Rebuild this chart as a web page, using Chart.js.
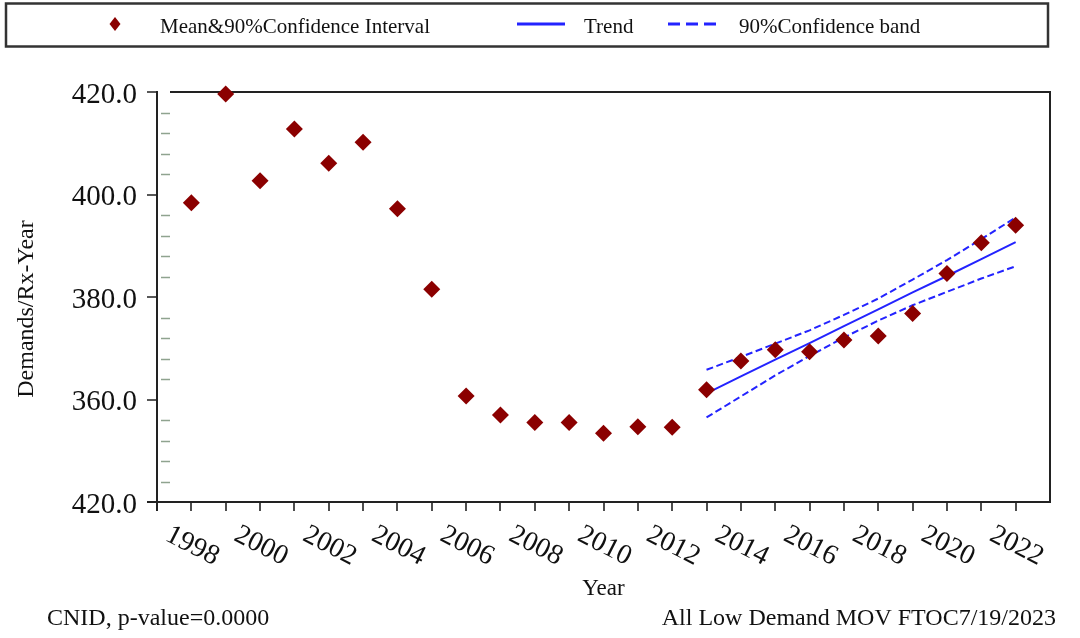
<!DOCTYPE html>
<html>
<head>
<meta charset="utf-8">
<script src="https://cdn.jsdelivr.net/npm/chart.js@4.4.1/dist/chart.umd.min.js"></script>
<style>
  html, body { margin: 0; padding: 0; background: #ffffff; }
  #wrap { width: 1080px; height: 638px; }
</style>
</head>
<body>
<div id="wrap"><canvas id="c" width="1080" height="638"></canvas></div>
<script>
// ---------------- data ----------------
const years = [1998, 1999, 2000, 2001, 2002, 2003, 2004, 2005, 2006, 2007, 2008, 2009, 2010,
               2011, 2012, 2013, 2014, 2015, 2016, 2017, 2018, 2019, 2020, 2021, 2022];
const meanDemand = [398.4, 419.6, 402.7, 412.8, 406.1, 410.2, 397.2, 381.5, 360.7, 357.0, 355.5, 355.5, 353.4,
                    354.7, 354.6, 361.9, 367.5, 369.7, 369.3, 371.6, 372.4, 376.8, 384.6, 390.6, 394.0];
const trendYears = [2013, 2014, 2015, 2016, 2017, 2018, 2019, 2020, 2021, 2022];
const trendValues = [361.2, 364.5, 367.8, 371.0, 374.3, 377.6, 380.9, 384.1, 387.4, 390.7];
const upperBand = [365.8, 368.3, 370.9, 373.5, 376.5, 379.7, 383.4, 387.2, 391.3, 395.5];
const lowerBand = [356.5, 360.6, 364.7, 368.5, 372.1, 375.4, 378.4, 381.0, 383.6, 386.0];
const xTickLabels = ['1998', '2000', '2002', '2004', '2006', '2008', '2010', '2012', '2014', '2016', '2018', '2020', '2022'];
const yTickLabels = ['420.0', '360.0', '380.0', '400.0', '420.0']; // bottom to top, as printed in the source
const seriesNames = ['Mean&90%Confidence Interval', 'Trend', '90%Confidence band'];
const xTitle = 'Year';
const yTitle = 'Demands/Rx-Year';
const footLeft = 'CNID, p-value=0.0000';
const footRight = 'All Low Demand MOV FTOC7/19/2023';

// ---------------- styles ----------------
const SERIF = '"Liberation Serif", "Times New Roman", "DejaVu Serif", serif';
const MARKER = '#8b0000';
const BLUE = '#2323ff';
const INK = '#111111';

const decor = {
  id: 'decor',
  beforeDatasetsDraw(chart) {
    const { ctx, chartArea: a, scales: { x, y } } = chart;
    ctx.save();
    ctx.strokeStyle = '#222222';
    ctx.lineWidth = 2;
    ctx.beginPath();
    ctx.moveTo(a.left, a.top - 1); ctx.lineTo(a.left, a.bottom + 9);
    ctx.moveTo(a.left - 10, a.bottom); ctx.lineTo(a.right + 1, a.bottom);
    ctx.moveTo(a.right, a.top - 1); ctx.lineTo(a.right, a.bottom + 1);
    ctx.moveTo(a.left + 13, a.top); ctx.lineTo(a.right + 1, a.top);
    ctx.stroke();
    ctx.lineWidth = 1.6;
    ctx.beginPath();
    for (let v = y.min; v <= y.max; v += 20) {
      const py = Math.round(y.getPixelForValue(v));
      ctx.moveTo(a.left - 10, py); ctx.lineTo(a.left, py);
    }
    for (let yr = x.min + 1; yr < x.max; yr++) {
      const px = Math.round(x.getPixelForValue(yr));
      ctx.moveTo(px, a.bottom); ctx.lineTo(px, a.bottom + 9);
    }
    ctx.stroke();
    ctx.strokeStyle = '#8fa38f';
    ctx.lineWidth = 1.5;
    ctx.beginPath();
    for (let v = y.min + 4; v < y.max; v += 4) {
      if (v % 20 === 0) continue;
      const py = Math.round(y.getPixelForValue(v)) + 0.5;
      ctx.moveTo(a.left + 4, py); ctx.lineTo(a.left + 13, py);
    }
    ctx.stroke();
    ctx.restore();
  },
  afterDraw(chart) {
    const { ctx, chartArea: a, scales: { x } } = chart;
    ctx.save();
    ctx.fillStyle = INK;
    // rotated x tick labels
    ctx.font = '28px ' + SERIF;
    ctx.textAlign = 'center';
    ctx.textBaseline = 'middle';
    xTickLabels.forEach(lbl => {
      const px = x.getPixelForValue(Number(lbl));
      ctx.save();
      ctx.translate(px + 1, a.bottom + 44);
      ctx.rotate(27 * Math.PI / 180);
      ctx.fillText(lbl, 0, 0);
      ctx.restore();
    });
    // y title
    ctx.save();
    ctx.font = '24px ' + SERIF;
    ctx.translate(27, 309);
    ctx.rotate(-Math.PI / 2);
    ctx.fillText(yTitle, 0, 0);
    ctx.restore();
    // footer
    ctx.font = '24px ' + SERIF;
    ctx.textAlign = 'left';
    ctx.fillText(footLeft, 47, 619);
    ctx.textAlign = 'right';
    ctx.fillText(footRight, 1056, 619);
    // legend box
    ctx.strokeStyle = '#333333';
    ctx.lineWidth = 2.5;
    ctx.strokeRect(6, 3.5, 1042, 43);
    const ds = chart.data.datasets;
    const ly = 24;
    // marker
    ctx.fillStyle = ds[0].backgroundColor;
    ctx.beginPath();
    ctx.moveTo(115, ly - 7); ctx.lineTo(120.5, ly); ctx.lineTo(115, ly + 7); ctx.lineTo(109.5, ly);
    ctx.closePath(); ctx.fill();
    // trend line
    ctx.strokeStyle = ds[1].borderColor;
    ctx.lineWidth = 3;
    ctx.beginPath(); ctx.moveTo(517, ly); ctx.lineTo(565, ly); ctx.stroke();
    // dashed band line
    ctx.setLineDash([12, 6]);
    ctx.beginPath(); ctx.moveTo(668, ly); ctx.lineTo(717, ly); ctx.stroke();
    ctx.setLineDash([]);
    ctx.fillStyle = INK;
    ctx.font = '21px ' + SERIF;
    ctx.textAlign = 'left';
    ctx.fillText(ds[0].label, 160, ly + 3);
    ctx.fillText(ds[1].label, 584, ly + 3);
    ctx.fillText(ds[2].label, 739, ly + 3);
    ctx.restore();
  }
};

const pts = (xs, ys) => xs.map((v, i) => ({ x: v, y: ys[i] }));

new Chart(document.getElementById('c'), {
  type: 'scatter',
  data: {
    datasets: [
      {
        label: seriesNames[0], data: pts(years, meanDemand), order: 0,
        pointStyle: 'rectRot', pointRadius: 8.5, pointHoverRadius: 8.5,
        backgroundColor: MARKER, borderColor: MARKER, borderWidth: 0, clip: false
      },
      {
        label: seriesNames[1], data: pts(trendYears, trendValues), order: 1, showLine: true,
        borderColor: BLUE, backgroundColor: BLUE, borderWidth: 2, pointRadius: 0, fill: false
      },
      {
        label: seriesNames[2], data: pts(trendYears, upperBand), order: 2, showLine: true,
        borderColor: BLUE, backgroundColor: BLUE, borderWidth: 2, borderDash: [7, 3.5],
        pointRadius: 0, fill: false
      },
      {
        label: seriesNames[2], data: pts(trendYears, lowerBand), order: 3, showLine: true,
        borderColor: BLUE, backgroundColor: BLUE, borderWidth: 2, borderDash: [7, 3.5],
        pointRadius: 0, fill: false
      }
    ]
  },
  options: {
    responsive: false,
    animation: false,
    devicePixelRatio: 1,
    layout: { padding: { top: 92, right: 30, left: 0, bottom: 0 } },
    plugins: { legend: { display: false }, tooltip: { enabled: false } },
    scales: {
      x: {
        type: 'linear', min: 1997, max: 2023,
        grid: { display: false, drawTicks: false }, border: { display: false },
        ticks: { display: false },
        afterFit(s) { s.height = 136; },
        title: { display: true, text: xTitle, color: INK, font: { family: SERIF, size: 23 }, padding: { top: 0, bottom: 35 } }
      },
      y: {
        type: 'linear', min: 340, max: 420,
        grid: { display: false, drawTicks: false }, border: { display: false },
        ticks: {
          stepSize: 20, padding: 20, labelOffset: 3, color: INK, font: { family: SERIF, size: 29 },
          callback: (v, i) => yTickLabels[i]
        },
        afterFit(s) { s.width = 157; }
      }
    }
  },
  plugins: [decor]
});
</script>
</body>
</html>
